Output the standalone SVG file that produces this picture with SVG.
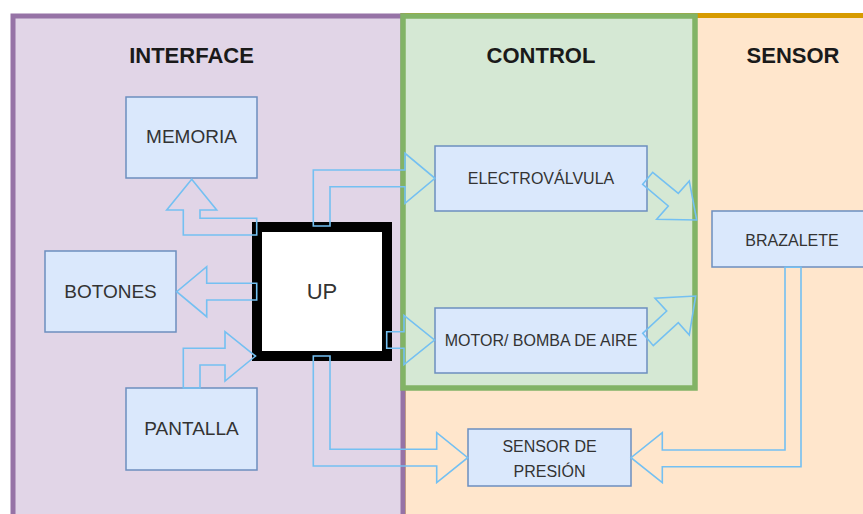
<svg xmlns="http://www.w3.org/2000/svg" width="863" height="514" viewBox="0 0 863 514">
  <style>
    .lane-title { font-family: "Liberation Sans", Arial, sans-serif; font-size: 22px; font-weight: bold; fill: #1a1a1a; text-anchor: middle; }
    .box { fill: #DAE8FC; stroke: #6C8EBF; stroke-width: 1.5; }
    .label { font-family: "Liberation Sans", Arial, sans-serif; fill: #333333; text-anchor: middle; }
    .big { font-size: 19px; }
    .small { font-size: 16px; }
    .flex { fill: none; stroke: #74C0F2; stroke-width: 1.6; stroke-linejoin: miter; }
  </style>

  <rect width="863" height="514" fill="#ffffff"/>

  <!-- swimlanes -->
  <g id="lane-sensor">
    <rect x="403" y="15.5" width="480" height="520" fill="#FFE6CC" stroke="#D79B00" stroke-width="5"/>
    <text class="lane-title" x="793" y="63">SENSOR</text>
  </g>
  <g id="lane-interface">
    <rect x="13" y="16" width="390" height="520" fill="#E1D5E7" stroke="#9673A6" stroke-width="5"/>
    <text class="lane-title" x="191.5" y="63">INTERFACE</text>
  </g>
  <g id="lane-control">
    <rect x="403" y="16" width="292" height="372" fill="#D5E8D4" stroke="#82B366" stroke-width="5.5"/>
    <text class="lane-title" x="541" y="63">CONTROL</text>
  </g>

  <!-- nodes -->
  <g id="memoria">
    <rect class="box" x="126" y="97" width="131" height="81"/>
    <text class="label big" x="191.5" y="143">MEMORIA</text>
  </g>
  <g id="botones">
    <rect class="box" x="45" y="251" width="131" height="81"/>
    <text class="label big" x="110.5" y="298">BOTONES</text>
  </g>
  <g id="pantalla">
    <rect class="box" x="126" y="388" width="131" height="82"/>
    <text class="label big" x="191.5" y="435">PANTALLA</text>
  </g>
  <g id="up">
    <rect x="257" y="227" width="130" height="129" fill="#ffffff" stroke="#000000" stroke-width="10"/>
    <text class="label" x="322" y="299" font-size="22">UP</text>
  </g>
  <g id="electrovalvula">
    <rect class="box" x="435" y="146" width="212" height="65"/>
    <text class="label small" x="541" y="184">ELECTROVÁLVULA</text>
  </g>
  <g id="motor">
    <rect class="box" x="435" y="308" width="212" height="65"/>
    <text class="label small" x="541" y="346">MOTOR/ BOMBA DE AIRE</text>
  </g>
  <g id="brazalete">
    <rect class="box" x="712" y="211" width="160" height="56"/>
    <text class="label small" x="792" y="246">BRAZALETE</text>
  </g>
  <g id="sensor-presion">
    <rect class="box" x="468" y="429" width="163" height="57"/>
    <text class="label small" x="549.5" y="452">SENSOR DE</text>
    <text class="label small" x="549.5" y="477">PRESIÓN</text>
  </g>

  <!-- connectors (outlined block arrows) -->
  <g id="connectors">
    <polygon class="flex" points="256.7,218.3 200,218.3 200,210 216.7,210 191.7,179.3 166.7,210 183.3,210 183.3,235 256.7,235"/>
    <polygon class="flex" points="313.3,226 313.3,170 405,170 405,153.3 435,178.3 405,203.3 405,186.7 330,186.7 330,226"/>
    <polygon class="flex" points="256.7,283.3 206.7,283.3 206.7,266.7 176.7,291.7 206.7,316.7 206.7,300 256.7,300"/>
    <polygon class="flex" points="183.3,388 183.3,348.3 225,348.3 225,331.7 255.5,356 225,381 225,365 200,365 200,388"/>
    <polygon class="flex" points="386.7,331.7 404,331.7 404,315.5 434.5,340 404,364.5 404,348.3 386.7,348.3"/>
    <polygon class="flex" points="313.3,356 313.3,466 436.7,466 436.7,482.7 467.7,457.7 436.7,432.7 436.7,449.3 330,449.3 330,356"/>
    <polygon class="flex" points="785,267.3 785,450 662.3,450 662.3,432.7 631,457.7 662.3,482.7 662.3,466.7 801,466.7 801,267.3"/>
    <polygon class="flex" points="642.7,184.3 652.7,172.3 678.3,193.3 689.3,181 696.7,220 656.7,219.3 668.3,206"/>
    <polygon class="flex" points="642.7,333.3 653.3,345.7 678.3,322.7 689.3,335 695.7,296 655,298.3 666.7,311"/>
  </g>
</svg>
